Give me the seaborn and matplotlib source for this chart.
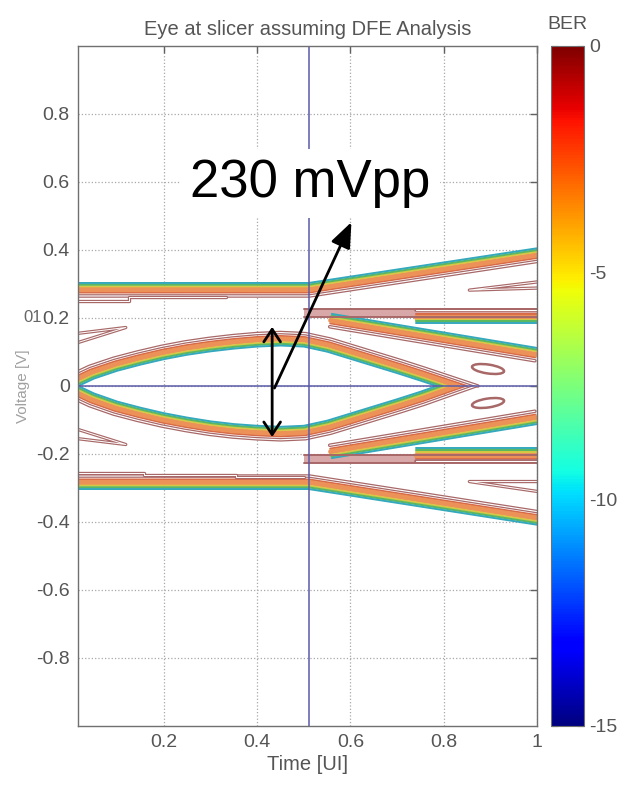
import numpy as np
import pandas as pd
import matplotlib
matplotlib.use('Agg')
import matplotlib.pyplot as plt
import seaborn as sns
from matplotlib.patches import Ellipse
from matplotlib.cm import ScalarMappable
from matplotlib.colors import Normalize

# inner (lowest BER) edge of each eye trace
eye_t = [0.016, 0.05, 0.1, 0.15, 0.2, 0.25, 0.3, 0.35, 0.4, 0.45, 0.5, 0.55, 0.6, 0.65, 0.7, 0.75, 0.785]
eye_top = [0.0, 0.022, 0.045, 0.063, 0.079, 0.092, 0.102, 0.110, 0.116, 0.119, 0.116, 0.101, 0.080, 0.059, 0.038, 0.016, 0.0]
eye_bot = [0.0, -0.022, -0.046, -0.064, -0.080, -0.093, -0.104, -0.112, -0.117, -0.120, -0.117, -0.102, -0.081, -0.060, -0.039, -0.017, 0.0]

rail_t = [0.016, 0.51, 1.0]
rail_top = [0.303, 0.303, 0.405]
rail_bot = [-0.303, -0.303, -0.408]

branch_t = [0.56, 1.0]
branch_top = [0.212, 0.112]
branch_bot = [-0.212, -0.112]

flat_t = [0.74, 1.0]
flat_top = [0.185, 0.185]
flat_bot = [-0.183, -0.183]

# rose coloured ridge along +/-0.2 after the sampling point
ridge_t = [0.50, 1.0]
ridge_top = [0.204, 0.226]
ridge_bot = [-0.204, -0.227]

# thin outer contours (BER close to 0)
outline_t = [
    [0.016, 0.125, 0.125, 0.333],
    [0.016, 0.157, 0.157, 0.355, 0.355, 0.5],
    [0.016, 0.118, 0.016],
    [0.016, 0.118, 0.016],
    [1.0, 0.855, 1.0],
    [1.0, 0.855, 1.0],
]
outline_v = [
    [0.250, 0.250, 0.262, 0.262],
    [-0.256, -0.256, -0.262, -0.262, -0.268, -0.268],
    [0.128, 0.172, 0.155],
    [-0.128, -0.172, -0.155],
    [0.306, 0.282, 0.288],
    [-0.281, -0.281, -0.310],
]
blob_t = [0.895, 0.895]
blob_v = [0.05, -0.05]

sample_t = 0.51
ber_ticks = [0, -5, -10, -15]

SX, SY = 465.0, 340.0  # px per data unit


def offset(t, v, d, sign):
    t = np.asarray(t, float)
    v = np.asarray(v, float)
    tx, ty = np.gradient(t * SX), np.gradient(v * SY)
    n = np.hypot(tx, ty)
    return t + sign * d * (-ty / n) / SX, v + sign * d * (tx / n) / SY


def to_zero(t, v):
    # carry the last segment on until it meets the 0 V line
    if v[-1] != 0 and v[-1] != v[-2]:
        te = t[-1] + (0 - v[-1]) * (t[-1] - t[-2]) / (v[-1] - v[-2])
        t, v = np.append(t, te), np.append(v, 0.0)
    return t, v


traces = [
    (eye_t, eye_top, 1, True),
    (eye_t, eye_bot, -1, True),
    (rail_t, rail_top, -1, False),
    (rail_t, rail_bot, 1, False),
    (branch_t, branch_top, -1, False),
    (branch_t, branch_bot, 1, False),
    (flat_t, flat_top, 1, False),
    (flat_t, flat_bot, -1, False),
]

# contour layers from the outside in: (offset px, colour, width)
band = [
    (13.0, '#a86868', 2.6),
    (13.0, 'white', 0.8),
    (9.5, '#d86a48', 1.5),
    (6.5, '#ec9258', 3.8),
    (3.3, '#d6c844', 1.5),
    (1.7, '#5cb860', 1.5),
    (0.0, '#34a8bc', 1.4),
]

sns.set_style('white')
plt.rcParams['font.family'] = ['Liberation Sans', 'DejaVu Sans']

fig = plt.figure(figsize=(6.28, 7.86), dpi=100)
ax = fig.add_axes([78 / 628, 1 - 726 / 786, 459 / 628, 680 / 786])

ax.grid(True, ls=':', color='#a8a8a8', lw=0.9)

for d, c, lw in band:
    rows = []
    for k, (t, v, s, ext) in enumerate(traces):
        ot, ov = offset(t, v, d, s)
        if ext:
            ot, ov = to_zero(ot, ov)
        rows.append(pd.DataFrame({'t': ot, 'v': ov, 'seg': k}))
    df = pd.concat(rows, ignore_index=True)
    sns.lineplot(data=df, x='t', y='v', units='seg', estimator=None, sort=False,
                 color=c, lw=lw, ax=ax, legend=False)

# ridges along +/-0.2
for lo_hi in (ridge_top, ridge_bot):
    ax.fill_between(ridge_t, lo_hi[0], lo_hi[1], color='#d8a8a8', lw=0)
    for y in lo_hi:
        sns.lineplot(x=ridge_t, y=[y, y], color='#a86868', lw=1.4, ax=ax)

# thin outer contours
for t, v in zip(outline_t, outline_v):
    sns.lineplot(x=t, y=v, sort=False, estimator=None, color='#a86868', lw=2.4, ax=ax)
    sns.lineplot(x=t, y=v, sort=False, estimator=None, color='white', lw=0.7, ax=ax)
for t, v, a in zip(blob_t, blob_v, (-12, 12)):
    ax.add_patch(Ellipse((t, v), 0.07, 0.026, angle=a, fc='white', ec='#a86868', lw=1.8))

ax.axvline(sample_t, color='#5a5aa8', lw=1.1)
ax.axhline(0, color='#5a5aa8', lw=1.1)

ax.set_xlim(0.0156, 1.0)
ax.set_ylim(-1, 1)
ax.set_xticks([0.2, 0.4, 0.6, 0.8, 1.0])
ax.set_xticklabels(['0.2', '0.4', '0.6', '0.8', '1'])
yt = [-0.8, -0.6, -0.4, -0.2, 0, 0.2, 0.4, 0.6, 0.8]
ax.set_yticks(yt)
ax.set_yticklabels(['-0.8', '-0.6', '-0.4', '-0.2', '0', '0.2', '0.4', '0.6', '0.8'])
ax.tick_params(direction='in', top=True, right=True, length=5, width=1,
               color='#606060', labelcolor='#555555', labelsize=14, pad=6)
for sp in ax.spines.values():
    sp.set_color('#707070')
    sp.set_linewidth(1)

ax.set_xlabel('Time [UI]', fontsize=14.5, color='#555555', labelpad=3)
ax.set_ylabel('Voltage [V]', fontsize=11, color='#a0a0a0', labelpad=4)
ax.set_title('Eye at slicer assuming DFE Analysis', fontsize=14.5, color='#555555', pad=8)
ax.text(-0.078, 0.2, '01', transform=ax.get_yaxis_transform(), ha='right', va='center',
        fontsize=12, color='#666666')

# annotation
ax.text(0.514, 0.597, '230 mVpp', fontsize=38, ha='center', va='center', color='black',
        bbox=dict(fc='white', ec='none', pad=7), zorder=5)
ax.annotate('', xy=(0.602, 0.482), xytext=(0.437, -0.006), zorder=6,
            arrowprops=dict(arrowstyle='-|>,head_length=0.55,head_width=0.22', mutation_scale=28,
                            color='black', lw=2, shrinkA=0, shrinkB=0))
ax.annotate('', xy=(0.432, 0.174), xytext=(0.432, -0.150), zorder=6,
            arrowprops=dict(arrowstyle='<->,head_length=0.45,head_width=0.3', mutation_scale=20,
                            color='black', lw=2, shrinkA=0, shrinkB=0))

# colour bar
cax = fig.add_axes([551 / 628, 1 - 726 / 786, 33 / 628, 680 / 786])
cb = fig.colorbar(ScalarMappable(norm=Normalize(-15, 0), cmap='jet'), cax=cax, ticks=ber_ticks)
cb.ax.set_yticklabels([str(b) for b in ber_ticks])
cb.ax.tick_params(direction='in', length=5, left=True, right=True, color='#303030',
                  labelcolor='#555555', labelsize=14)
cb.outline.set_edgecolor('#707070')
cb.ax.set_title('BER', fontsize=14, color='#555555', pad=12)

fig.savefig('out.png', dpi=100)
